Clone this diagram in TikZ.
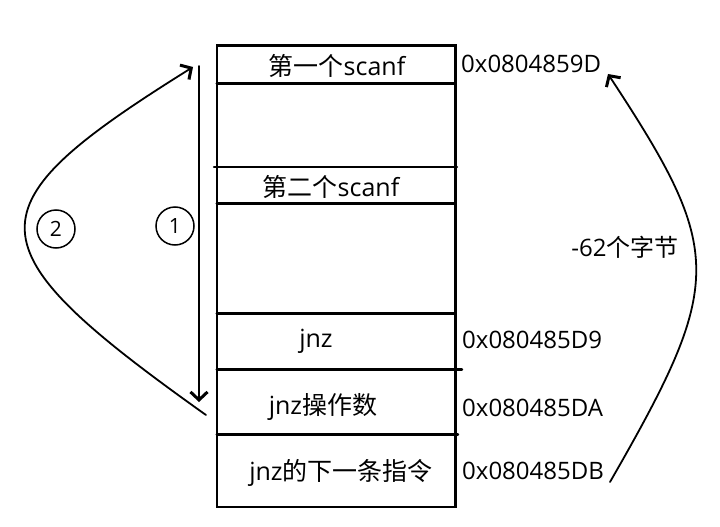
\documentclass[tikz,border=0pt]{standalone}
\usepackage{fontspec}
\setmainfont{Open Sans}
\newfontfamily\cjk{Noto Sans CJK SC}
\usetikzlibrary{arrows.meta}

\begin{document}
\begin{tikzpicture}[
    x=1pt, y=-1pt,          % pixel-like grid, y grows downwards
    line cap=round,
    ]
% -------------------------------------------------
\tikzset{
  box/.style={draw, line width=2.4pt},
  cell/.style={inner sep=0pt, font=\fontsize{25}{28}\selectfont},
  addr/.style={inner sep=0pt, anchor=west, font=\fontsize{24}{27}\selectfont},
  num/.style={draw, circle, line width=1.5pt, minimum size=38pt, inner sep=0pt,
              font=\fontsize{21}{24}\selectfont},
  jump/.style={draw, line width=1.8pt,
               -{Straight Barb[length=8pt, width=17pt, line width=3pt]}},
}
\useasboundingbox (0,0) rectangle (720,527);
% -------------------------------------------------
% The memory column
\draw [box] (216.7,45.7) rectangle (455.6,506.7);
\draw [box] (216.7,83.3) -- (455.6,83.3);
\draw [box] (214,166.7) -- (457,166.7);
\draw [box] (216.7,203.3) -- (455.6,203.3);
\draw [box] (216.7,313.3) -- (455.6,313.3);
\draw [box] (216.7,369.3) -- (462,369.3);
\draw [box] (216.7,434.3) -- (458,434.3);

% Placing the nodes
\node [cell] (s1) at (337,66) {{\cjk 第一个}scanf};
\node [cell] (s2) at (331,187) {{\cjk 第二个}scanf};
\node [cell] (jnz) at (316,341) {jnz};
\node [cell] (opnd) at (323,407) {jnz{\cjk 操作数}};
\node [cell] (next) at (341,473) {jnz{\cjk 的下一条指令}};

\node [addr] (a1) at (461,64) {0x0804859D};
\node [addr] (a2) at (462,340) {0x080485D9};
\node [addr] (a3) at (462,408) {0x080485DA};
\node [addr] (a4) at (462,471) {0x080485DB};

\node [num] (c1) at (175,226) {1};
\node [num] (c2) at (56,229) {2};
\node [cell, font=\fontsize{24}{27}\selectfont] (off) at (625,247) {-62{\cjk 个字节}};

\coordinate (top1) at (199,66);
\coordinate (bot1) at (199,402);
\coordinate (top2) at (193,67);
\coordinate (bot2) at (206,415);
\coordinate (dn) at (610,482);
\coordinate (up) at (608,74);

% Jumps
\path [jump] (top1) -- (bot1);
\path [jump] (bot2) .. controls (-33,245) and (-33,208) .. (top2);
\path [jump] (dn) .. controls (725,282) and (725,252) .. (up);

\end{tikzpicture}
\end{document}
